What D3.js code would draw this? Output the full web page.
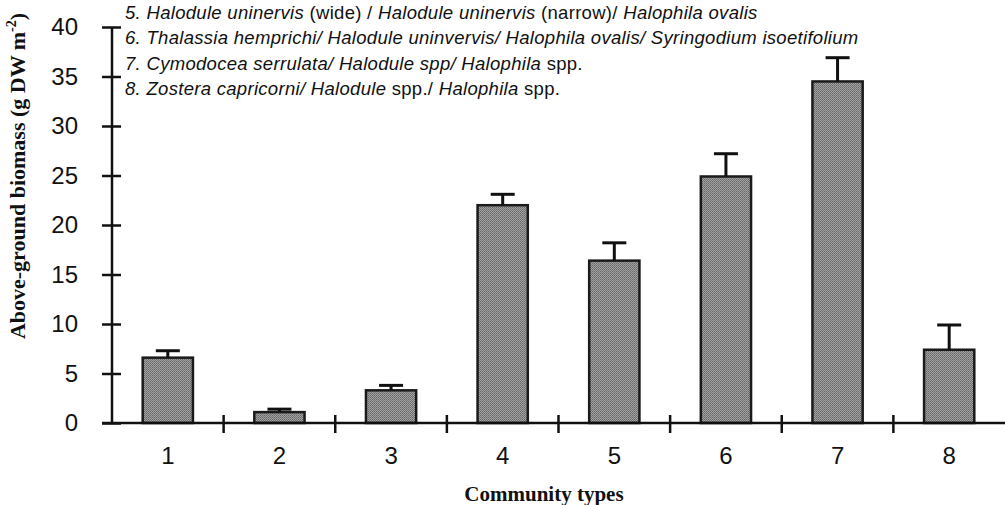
<!DOCTYPE html>
<html>
<head>
<meta charset="utf-8">
<script src="https://cdn.jsdelivr.net/npm/d3@7"></script>
<style>
  body { margin: 0; background: #fff; }
  svg { display: block; }
</style>
</head>
<body>
<div id="chart"></div>
<script>
// community types and biomass (mean + standard error)
const categories = ['1', '2', '3', '4', '5', '6', '7', '8'];
const means = [6.6, 1.1, 3.3, 22.0, 16.4, 24.9, 34.5, 7.4];
const errors = [0.7, 0.3, 0.5, 1.1, 1.8, 2.3, 2.4, 2.5];
const yTicks = [0, 5, 10, 15, 20, 25, 30, 35, 40];

// legend lines: [text, italic?] pieces
const notes = [
  [['5. Halodule uninervis ', true], ['(wide) / ', false], ['Halodule uninervis ', true], ['(narrow)/ ', false], ['Halophila ovalis', true]],
  [['6. Thalassia hemprichi/ Halodule uninvervis/ Halophila ovalis/ Syringodium isoetifolium', true]],
  [['7. Cymodocea serrulata/ Halodule spp/ Halophila ', true], ['spp.', false]],
  [['8. Zostera capricorni/ Halodule ', true], ['spp./ ', false], ['Halophila ', true], ['spp.', false]]
];

const W = 1005, H = 505;
const margin = { top: 27, right: 0, bottom: 82, left: 112 };
const width = W - margin.left - margin.right;
const height = H - margin.top - margin.bottom;

const svg = d3.select('#chart').append('svg')
  .attr('width', W)
  .attr('height', H);

// fine checker fill, close to the printed halftone
const pat = svg.append('defs').append('pattern')
  .attr('id', 'stipple')
  .attr('patternUnits', 'userSpaceOnUse')
  .attr('width', 2).attr('height', 2);
pat.append('rect').attr('width', 2).attr('height', 2).attr('fill', '#a2a2a2');
pat.append('rect').attr('x', 0).attr('y', 0).attr('width', 1).attr('height', 1).attr('fill', '#666');
pat.append('rect').attr('x', 1).attr('y', 1).attr('width', 1).attr('height', 1).attr('fill', '#777');

const g = svg.append('g').attr('transform', `translate(${margin.left},${margin.top})`);

const x = d3.scaleBand().domain(categories).range([0, width]).padding(0);
const xb = d3.scaleLinear().domain([0, categories.length]).range([0, width]);
const y = d3.scaleLinear().domain([0, 40]).range([height, 0]);

const barW = x.bandwidth() * 0.45;

// bars
g.selectAll('rect.bar')
  .data(means)
  .enter()
  .append('rect')
  .attr('class', 'bar')
  .attr('x', (d, i) => x(categories[i]) + (x.bandwidth() - barW) / 2)
  .attr('y', d => y(d))
  .attr('width', barW)
  .attr('height', d => y(0) - y(d))
  .attr('fill', 'url(#stipple)')
  .attr('stroke', '#1a1a1a')
  .attr('stroke-width', 2.5);

// error bars
const capW = 24;
means.forEach((m, i) => {
  const cx = x(categories[i]) + x.bandwidth() / 2;
  g.append('line')
    .attr('x1', cx).attr('x2', cx)
    .attr('y1', y(m)).attr('y2', y(m + errors[i]))
    .attr('stroke', '#111').attr('stroke-width', 3);
  g.append('line')
    .attr('x1', cx - capW / 2).attr('x2', cx + capW / 2)
    .attr('y1', y(m + errors[i])).attr('y2', y(m + errors[i]))
    .attr('stroke', '#111').attr('stroke-width', 3);
});

// y axis, ticks cross the line
const yAxis = g.append('g')
  .call(d3.axisLeft(y).tickValues(yTicks).tickSize(10).tickPadding(24))
  .attr('font-family', 'Liberation Sans, Arial, sans-serif')
  .attr('font-size', '24px');
yAxis.select('.domain').remove();
yAxis.selectAll('.tick line').attr('x1', 9).attr('stroke', '#111').attr('stroke-width', 2.5);
yAxis.selectAll('.tick text').attr('fill', '#111');
g.append('line')
  .attr('x1', 0).attr('x2', 0)
  .attr('y1', y(40)).attr('y2', y(0))
  .attr('stroke', '#111').attr('stroke-width', 2.5);

// x axis line and category boundary ticks
g.append('line')
  .attr('x1', -10).attr('x2', width)
  .attr('y1', height).attr('y2', height)
  .attr('stroke', '#111').attr('stroke-width', 2.5);

g.selectAll('line.xtick')
  .data(d3.range(1, categories.length))
  .enter()
  .append('line')
  .attr('class', 'xtick')
  .attr('x1', d => xb(d)).attr('x2', d => xb(d))
  .attr('y1', height - 8).attr('y2', height + 10)
  .attr('stroke', '#111').attr('stroke-width', 2.5);

const xAxis = g.append('g')
  .attr('transform', `translate(0,${height})`)
  .call(d3.axisBottom(x).tickSize(0).tickPadding(24))
  .attr('font-family', 'Liberation Sans, Arial, sans-serif')
  .attr('font-size', '24px');
xAxis.select('.domain').remove();
xAxis.selectAll('.tick text').attr('fill', '#111');

// axis titles
svg.append('text')
  .attr('x', 544)
  .attr('y', 501)
  .attr('text-anchor', 'middle')
  .attr('font-family', 'Liberation Serif, Times New Roman, serif')
  .attr('font-weight', 'bold')
  .attr('font-size', '21px')
  .attr('fill', '#111')
  .text('Community types');

const yl = svg.append('text')
  .attr('transform', 'translate(25,176) rotate(-90)')
  .attr('text-anchor', 'middle')
  .attr('font-family', 'Liberation Serif, Times New Roman, serif')
  .attr('font-weight', 'bold')
  .attr('font-size', '22px')
  .attr('fill', '#111');
yl.append('tspan').text('Above-ground biomass (g DW m');
yl.append('tspan').attr('font-size', '14px').attr('dy', -9).text('-2');
yl.append('tspan').attr('dy', 9).text(')');

// species notes
notes.forEach((parts, i) => {
  const t = svg.append('text')
    .attr('x', 125)
    .attr('y', 19 + i * 25.3)
    .attr('font-family', 'Liberation Sans, Arial, sans-serif')
    .attr('font-size', '18.5px')
    .attr('letter-spacing', '0.3px')
    .attr('fill', '#111');
  parts.forEach(([s, it]) => {
    t.append('tspan')
      .attr('font-style', it ? 'italic' : 'normal')
      .style('white-space', 'pre')
      .text(s);
  });
});
</script>
</body>
</html>
